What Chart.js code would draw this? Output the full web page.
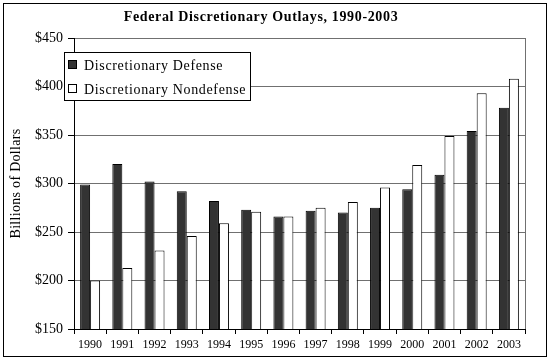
<!DOCTYPE html>
<html>
<head>
<meta charset="utf-8">
<script src="https://cdn.jsdelivr.net/npm/chart.js@4.4.1/dist/chart.umd.min.js"></script>
<style>
html,body{margin:0;padding:0;background:#fff;}
#wrap{position:relative;width:550px;height:362px;}
</style>
</head>
<body>
<div id="wrap"><canvas id="c" width="550" height="362"></canvas></div>
<script>
const years = ['1990','1991','1992','1993','1994','1995','1996','1997','1998','1999','2000','2001','2002','2003'];
const defense = [299, 320, 302, 292, 282, 273, 266, 272, 270, 275, 294, 309, 354, 378];
const nondefense = [200, 213, 231, 246, 259, 271, 266, 275, 281, 296, 319, 349, 393, 408];
const yTicks = [150, 200, 250, 300, 350, 400, 450];
const titleText = 'Federal Discretionary Outlays, 1990-2003';
const yTitle = 'Billions of Dollars';
const seriesNames = ['Discretionary Defense', 'Discretionary Nondefense'];

const SERIF = '"Liberation Serif", "DejaVu Serif", serif';

const decor = {
  id: 'decor',
  afterDraw(chart) {
    const ctx = chart.ctx;
    const a = chart.chartArea;
    ctx.save();
    // right plot border
    ctx.strokeStyle = '#707070';
    ctx.lineWidth = 1;
    ctx.beginPath();
    ctx.moveTo(Math.round(a.right) + 0.5, a.top);
    ctx.lineTo(Math.round(a.right) + 0.5, a.bottom);
    ctx.stroke();
    // outer border
    ctx.strokeStyle = '#000';
    ctx.lineWidth = 1;
    ctx.strokeRect(3.5, 3.5, 543, 353);
    // title
    ctx.fillStyle = '#000';
    ctx.font = 'bold 14px ' + SERIF;
    ctx.letterSpacing = '0.65px';
    ctx.textAlign = 'center';
    ctx.textBaseline = 'middle';
    ctx.fillText(titleText, 261, 17);
    // y title
    ctx.letterSpacing = '0.3px';
    ctx.font = '14px ' + SERIF;
    ctx.translate(16, (a.top + a.bottom) / 2);
    ctx.rotate(-Math.PI / 2);
    ctx.fillText(yTitle, 0, 0);
    ctx.setTransform(1, 0, 0, 1, 0, 0);
    // legend
    const lx = 64.5, ly = 52.5, lw = 186, lh = 48;
    ctx.fillStyle = '#fff';
    ctx.fillRect(lx, ly, lw, lh);
    ctx.strokeStyle = '#000';
    ctx.strokeRect(lx, ly, lw, lh);
    ctx.font = '14px ' + SERIF;
    ctx.letterSpacing = '0.65px';
    ctx.textAlign = 'left';
    const rows = [65, 89];
    chart.data.datasets.forEach((ds, i) => {
      const cy = rows[i];
      ctx.fillStyle = ds.backgroundColor;
      ctx.fillRect(68.5, cy - 4.5, 8, 8);
      ctx.strokeStyle = '#000';
      ctx.strokeRect(68.5, cy - 4.5, 8, 8);
      ctx.fillStyle = '#000';
      ctx.fillText(ds.label, 84, cy + 1);
    });
    ctx.restore();
  }
};

new Chart(document.getElementById('c'), {
  type: 'bar',
  data: {
    labels: years,
    datasets: [
      { label: seriesNames[0], data: defense, backgroundColor: '#333333', borderColor: '#000', borderWidth: 1 },
      { label: seriesNames[1], data: nondefense, backgroundColor: '#ffffff', borderColor: '#000', borderWidth: 1 }
    ]
  },
  options: {
    responsive: false,
    animation: false,
    devicePixelRatio: 1,
    layout: { padding: { left: 0, right: 25, top: 38, bottom: 0 } },
    plugins: { legend: { display: false }, title: { display: false }, tooltip: { enabled: false } },
    datasets: { bar: { categoryPercentage: 0.62, barPercentage: 1.0 } },
    scales: {
      x: {
        offset: true,
        grid: { offset: true, drawOnChartArea: false, drawTicks: true, tickLength: 5, tickColor: '#000' },
        border: { color: '#000' },
        ticks: { color: '#000', font: { family: SERIF, size: 12 }, padding: 4, maxRotation: 0, autoSkip: false },
        afterFit(s) { s.height = 33; }
      },
      y: {
        min: yTicks[0], max: yTicks[yTicks.length - 1],
        afterBuildTicks(s) { s.ticks = yTicks.map(v => ({ value: v })); },
        grid: { color: '#707070', lineWidth: 1, tickLength: 6, tickColor: '#000' },
        border: { color: '#000' },
        ticks: { color: '#000', font: { family: SERIF, size: 14 }, padding: 5, callback: v => '$' + v },
        afterFit(s) { s.width = 74; }
      }
    }
  },
  plugins: [decor]
});
</script>
</body>
</html>
